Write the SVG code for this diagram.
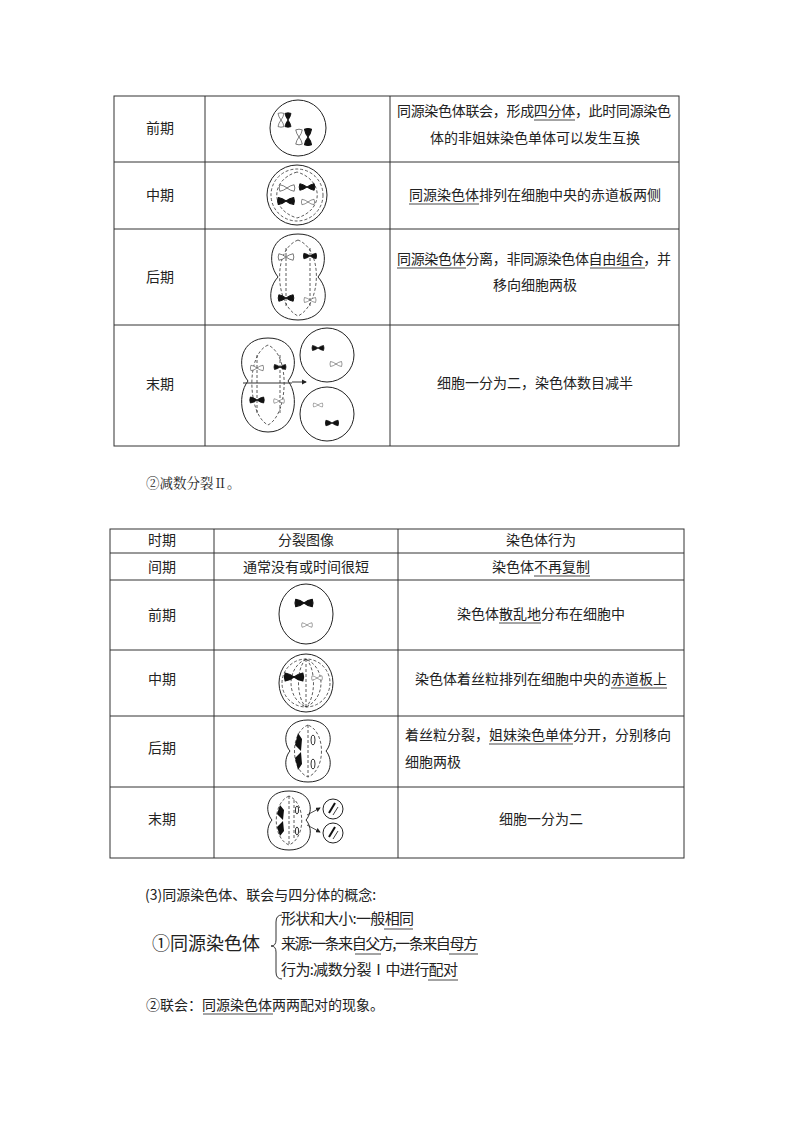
<svg xmlns="http://www.w3.org/2000/svg" xmlns:xlink="http://www.w3.org/1999/xlink" width="794" height="1123" viewBox="0 0 794 1123">
<style>
text{font-family:"Noto Sans CJK SC","Noto Sans",sans-serif;font-size:14px;fill:#222}
.g{stroke:#333;stroke-width:1;fill:none}
.c{stroke:#222;stroke-width:1;fill:#fff}
.d{stroke:#333;stroke-width:0.8;fill:none;stroke-dasharray:3 2}
.u{stroke:#333;stroke-width:0.9}
.mid{text-anchor:middle}
</style>
<defs>
<g id="bk"><path d="M-11,-5 Q-5,-4 0,0 Q-5,4 -11,5 Q-13,0 -11,-5 Z M11,-5 Q5,-4 0,0 Q5,4 11,5 Q13,0 11,-5 Z" fill="#111" stroke="#111" stroke-width="1.5" stroke-linejoin="round"/></g>
<g id="wh"><path d="M-11,-5 Q-5,-4 0,0 Q-5,4 -11,5 Q-13,0 -11,-5 Z M11,-5 Q5,-4 0,0 Q5,4 11,5 Q13,0 11,-5 Z" fill="#fff" stroke="#333" stroke-width="1"/></g>
<marker id="ar" markerWidth="6" markerHeight="6" refX="5" refY="3" orient="auto"><path d="M0,0 L6,3 L0,6 Z" fill="#222"/></marker>
</defs>
<rect width="794" height="1123" fill="#fff"/>

<g id="table1" class="g">
<rect x="114" y="96" width="565" height="350"/>
<line x1="205" y1="96" x2="205" y2="446"/><line x1="390" y1="96" x2="390" y2="446"/>
<line x1="114" y1="162" x2="679" y2="162"/><line x1="114" y1="229" x2="679" y2="229"/><line x1="114" y1="325" x2="679" y2="325"/>
</g>
<g id="t1-labels">
<text x="160" y="133" class="mid">前期</text><text x="160" y="200" class="mid">中期</text>
<text x="160" y="282" class="mid">后期</text><text x="160" y="389" class="mid">末期</text>
</g>
<g id="t1-prophase">
<circle cx="298" cy="128" r="28" class="c"/>
<use xlink:href="#wh" transform="translate(281,120) rotate(90) scale(0.6)"/>
<use xlink:href="#bk" transform="translate(288,120) rotate(90) scale(0.6)"/>
<use xlink:href="#wh" transform="translate(299,137) rotate(90) scale(0.65)"/>
<use xlink:href="#bk" transform="translate(308,137) rotate(90) scale(0.7)"/>
</g>
<g id="t1-metaphase">
<circle cx="297" cy="195" r="30" class="c"/>
<circle cx="297" cy="195" r="26" class="d"/>
<path d="M297,172 C270,180 270,210 297,218 C324,210 324,180 297,172" class="d"/>
<use xlink:href="#wh" transform="translate(287,188) scale(0.65)"/>
<use xlink:href="#bk" transform="translate(307,187) scale(0.65)"/>
<use xlink:href="#bk" transform="translate(286,201) scale(0.7)"/>
<use xlink:href="#wh" transform="translate(308,202) scale(0.55)"/>
</g>
<g id="t1-anaphase">
<path d="M298,234 C326,234 330,262 318,277 C332,292 326,320 298,320 C270,320 264,292 278,277 C266,262 270,234 298,234 Z" class="c"/>
<path d="M298,240 C272,250 275,305 298,316 C321,305 324,250 298,240" class="d"/>
<line x1="286" y1="248" x2="286" y2="306" class="d"/><line x1="310" y1="248" x2="310" y2="306" class="d"/>
<use xlink:href="#wh" transform="translate(286,257) scale(0.65)"/>
<use xlink:href="#bk" transform="translate(310,256) scale(0.55)"/>
<use xlink:href="#bk" transform="translate(286,298) scale(0.65)"/>
<use xlink:href="#wh" transform="translate(310,300) scale(0.5)"/>
</g>
<g id="t1-telophase">
<path d="M268,338 C296,338 300,366 288,381 C300,396 296,432 268,432 C240,432 236,396 248,381 C236,366 240,338 268,338 Z" class="c"/>
<line x1="243" y1="383" x2="292" y2="383" class="g"/>
<path d="M268,345 C245,355 248,415 268,425 C288,415 291,355 268,345" class="d"/>
<line x1="257" y1="355" x2="257" y2="415" class="d"/><line x1="280" y1="355" x2="280" y2="415" class="d"/>
<use xlink:href="#wh" transform="translate(257,368) scale(0.55)"/>
<use xlink:href="#bk" transform="translate(280,367) scale(0.5)"/>
<use xlink:href="#bk" transform="translate(257,400) scale(0.6)"/>
<use xlink:href="#wh" transform="translate(279,401) scale(0.45)"/>
<line x1="292" y1="382" x2="306" y2="382" stroke="#222" stroke-width="0.9" marker-end="url(#ar)"/>
<circle cx="327" cy="355" r="27" class="c"/>
<circle cx="327" cy="414" r="27" class="c"/>
<use xlink:href="#bk" transform="translate(318,348) scale(0.5)"/>
<use xlink:href="#wh" transform="translate(336,364) scale(0.5)"/>
<use xlink:href="#wh" transform="translate(318,405) scale(0.4)"/>
<use xlink:href="#bk" transform="translate(332,423) scale(0.55)"/>
</g>
<g id="t1-text">
<text x="397" y="116" textLength="274">同源染色体联会，形成四分体，此时同源染色</text>
<line x1="534" y1="120" x2="575" y2="120" class="u"/>
<text x="535" y="143" class="mid">体的非姐妹染色单体可以发生互换</text>
<text x="535" y="200" class="mid">同源染色体排列在细胞中央的赤道板两侧</text>
<line x1="409" y1="204" x2="479" y2="204" class="u"/>
<text x="397" y="264" textLength="274">同源染色体分离，非同源染色体自由组合，并</text>
<line x1="397" y1="268" x2="466" y2="268" class="u"/><line x1="590" y1="268" x2="645" y2="268" class="u"/>
<text x="535" y="290" class="mid">移向细胞两极</text>
<text x="535" y="388" class="mid">细胞一分为二，染色体数目减半</text>
</g>

<text x="146" y="488" style="font-family:'Noto Serif CJK SC','Liberation Serif',serif;font-size:13.5px">②减数分裂Ⅱ。</text>

<g id="table2" class="g">
<rect x="110" y="529" width="574" height="329"/>
<line x1="214" y1="529" x2="214" y2="858"/><line x1="398" y1="529" x2="398" y2="858"/>
<line x1="110" y1="553" x2="684" y2="553"/><line x1="110" y1="580" x2="684" y2="580"/>
<line x1="110" y1="650" x2="684" y2="650"/><line x1="110" y1="716" x2="684" y2="716"/><line x1="110" y1="787" x2="684" y2="787"/>
</g>
<g id="t2-text">
<text x="162" y="545" class="mid">时期</text><text x="306" y="545" class="mid">分裂图像</text><text x="541" y="545" class="mid">染色体行为</text>
<text x="162" y="572" class="mid">间期</text><text x="306" y="572" class="mid">通常没有或时间很短</text>
<text x="541" y="572" class="mid">染色体不再复制</text><line x1="534" y1="576" x2="590" y2="576" class="u"/>
<text x="162" y="620" class="mid">前期</text><text x="162" y="684" class="mid">中期</text>
<text x="162" y="753" class="mid">后期</text><text x="162" y="824" class="mid">末期</text>
<text x="541" y="619" class="mid">染色体散乱地分布在细胞中</text><line x1="499" y1="623" x2="541" y2="623" class="u"/>
<text x="541" y="684" class="mid">染色体着丝粒排列在细胞中央的赤道板上</text><line x1="611" y1="688" x2="667" y2="688" class="u"/>
<text x="405" y="740">着丝粒分裂，姐妹染色单体分开，分别移向</text><line x1="489" y1="744" x2="573" y2="744" class="u"/>
<text x="405" y="767">细胞两极</text>
<text x="541" y="824" class="mid">细胞一分为二</text>
</g>
<g id="t2-prophase">
<ellipse cx="306" cy="614" rx="27" ry="30" class="c"/>
<use xlink:href="#bk" transform="translate(304,603) scale(0.75)"/>
<use xlink:href="#wh" transform="translate(307,625) scale(0.45)"/>
</g>
<g id="t2-metaphase">
<ellipse cx="306" cy="683" rx="27" ry="29" class="c"/>
<circle cx="306" cy="683" r="24" class="d"/>
<path d="M306,659 C286,668 286,698 306,707 C326,698 326,668 306,659" class="d"/>
<path d="M306,659 C296,668 296,698 306,707 C316,698 316,668 306,659" class="d"/>
<line x1="306" y1="659" x2="306" y2="707" class="d"/>
<use xlink:href="#bk" transform="translate(294,677) scale(0.8)"/>
<use xlink:href="#wh" transform="translate(317,678) scale(0.45)"/>
</g>
<g id="t2-anaphase">
<path d="M308,720 C332,720 334,742 326,751 C334,760 332,782 308,782 C284,782 282,760 290,751 C282,742 284,720 308,720 Z" class="c"/>
<path d="M308,725 C290,732 290,770 308,777 C326,770 326,732 308,725" class="d"/>
<line x1="308" y1="725" x2="308" y2="777" class="d"/>
<path d="M298,733 L302,739 L301,751 L295,745 Z M298,770 L302,764 L301,752 L295,758 Z" fill="#111"/>
<ellipse cx="313" cy="740" rx="2" ry="5" class="g" stroke-width="0.7"/>
<ellipse cx="313" cy="764" rx="2" ry="5" class="g" stroke-width="0.7"/>
</g>
<g id="t2-telophase">
<path d="M289,791 C312,791 314,811 306,820 C314,829 312,850 289,850 C266,850 264,829 272,820 C264,811 266,791 289,791 Z" class="c"/>
<path d="M289,796 C272,803 272,838 289,845 C306,838 306,803 289,796" class="d"/>
<line x1="289" y1="796" x2="289" y2="845" class="d"/><line x1="294" y1="800" x2="294" y2="840" class="d"/>
<path d="M280,805 L284,810 L283,820 L277,814 Z M280,836 L284,831 L283,821 L277,827 Z" fill="#111"/>
<ellipse cx="297" cy="810" rx="1.6" ry="4" class="g" stroke-width="0.7"/>
<ellipse cx="297" cy="831" rx="1.6" ry="4" class="g" stroke-width="0.7"/>
<line x1="307" y1="815" x2="320" y2="808" stroke="#222" stroke-width="0.8" marker-end="url(#ar)"/>
<line x1="307" y1="825" x2="320" y2="832" stroke="#222" stroke-width="0.8" marker-end="url(#ar)"/>
<circle cx="333" cy="809" r="10" class="c"/><circle cx="333" cy="833" r="10" class="c"/>
<line x1="329" y1="813" x2="335" y2="803" stroke="#111" stroke-width="2"/><line x1="333" y1="815" x2="338" y2="807" stroke="#111" stroke-width="0.8"/>
<line x1="329" y1="837" x2="335" y2="827" stroke="#111" stroke-width="2"/><line x1="333" y1="839" x2="338" y2="831" stroke="#111" stroke-width="0.8"/>
</g>

<g id="concepts">
<text x="145" y="900" style="font-size:14px">(3)同源染色体、联会与四分体的概念:</text>
<text x="152" y="950" style="font-size:18px">①同源染色体</text>
<path d="M282,915 Q276,915 276,922 L276,940 Q276,946 271,946 Q276,946 276,952 L276,972 Q276,979 282,979" class="g"/>
<text x="281" y="924" textLength="133" style="font-size:15px">形状和大小:一般相同</text>
<line x1="384" y1="929" x2="413" y2="929" class="u"/>
<text x="281" y="949" textLength="197" style="font-size:15px">来源:一条来自父方,一条来自母方</text>
<line x1="355" y1="954" x2="381" y2="954" class="u"/><line x1="449" y1="954" x2="478" y2="954" class="u"/>
<text x="281" y="975" textLength="177" style="font-size:15px">行为:减数分裂Ⅰ中进行配对</text>
<line x1="428" y1="980" x2="458" y2="980" class="u"/>
<text x="146" y="1010">②联会：同源染色体两两配对的现象。</text>
<line x1="203" y1="1014" x2="273" y2="1014" class="u"/>
</g>
</svg>
